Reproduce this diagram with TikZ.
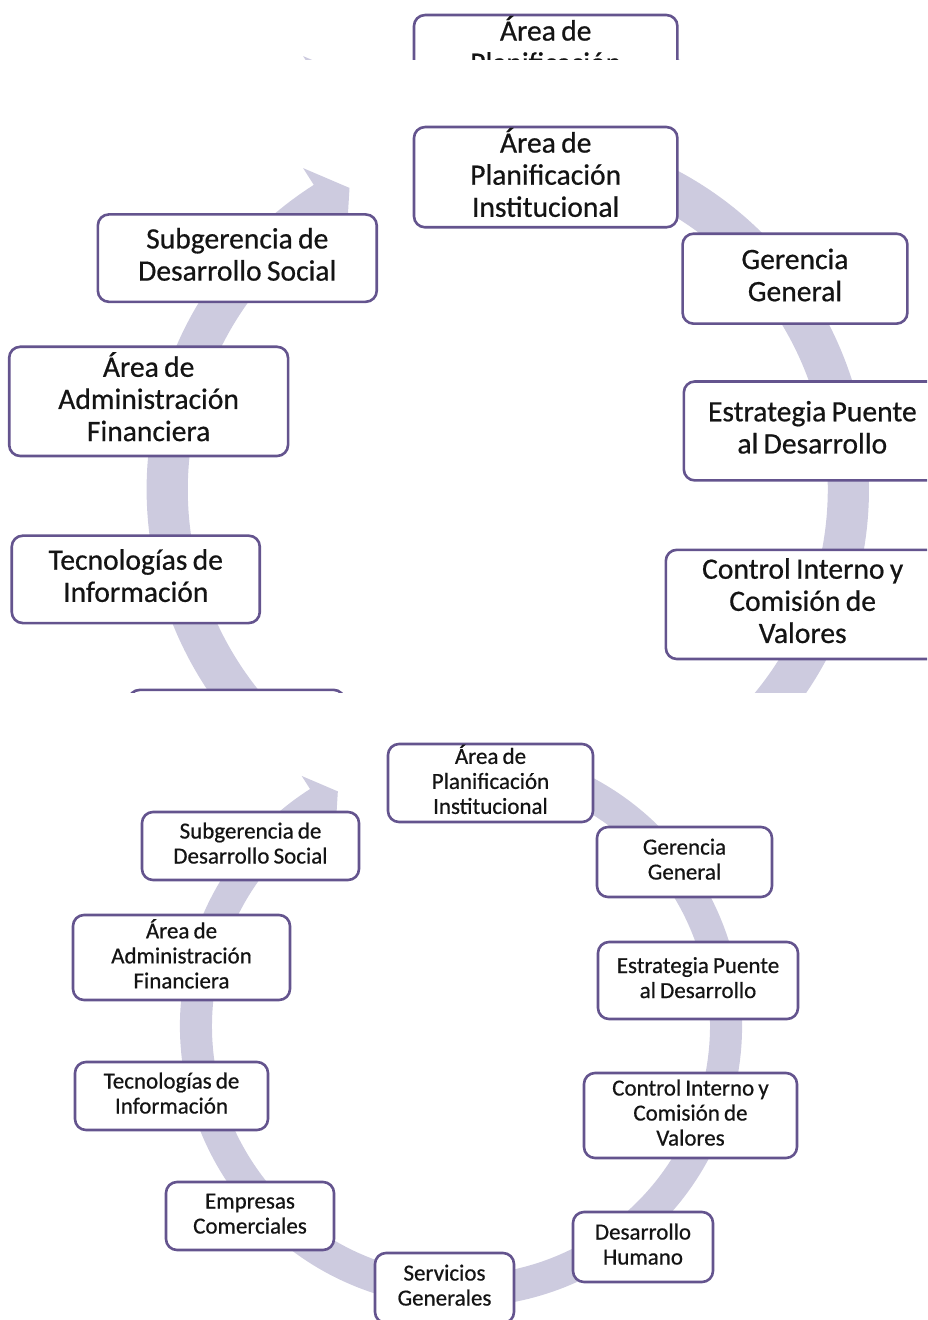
\documentclass[tikz,border=0pt]{standalone}
\usepackage{fontspec}
\setmainfont{Carlito}
\newfontfamily\boxfont{Carlito}[FakeBold=0.6, WordSpace=0.8]
\definecolor{bandc}{RGB}{205,203,223}
\definecolor{boxc}{RGB}{100,84,142}
\definecolor{txtc}{RGB}{20,20,20}
\newcommand\boxtext[1]{\begin{tabular}{@{}c@{}}#1\end{tabular}}
\tikzset{
  box/.style={draw=boxc, line width=2.6pt, rounded corners=11pt, fill=white,
    inner sep=0pt, text=txtc,
    font=\boxfont\fontsize{23}{25}\selectfont},
  band/.style={fill=bandc, draw=none}
}
\newcommand\cyclediagram{%
  \begin{scope}[shift={(461,1026)}]
    \fill[band] (-70:281) arc[start angle=-70, end angle=237.5, radius=281]
      -- (237.5:296.5) -- (242.3:265) -- (237.5:233.5) -- (237.5:249)
      arc[start angle=237.5, end angle=-70, radius=249] -- cycle;
  \end{scope}
  \node[box, minimum width=205, minimum height=78] (plan) at (490.5,783) {\boxtext{Área de\\Planificación\\Institucional}};
  \node[box, minimum width=175, minimum height=70] (gere) at (684.5,862) {\boxtext{Gerencia\\General}};
  \node[box, minimum width=200, minimum height=77] (estr) at (698,980.5) {\boxtext{Estrategia Puente\\al Desarrollo}};
  \node[box, minimum width=213, minimum height=85] (ctrl) at (690.5,1115.5) {\boxtext{Control Interno y\\Comisión de\\Valores}};
  \node[box, minimum width=140, minimum height=70] (dhum) at (643,1247) {\boxtext{Desarrollo\\Humano}};
  \node[box, minimum width=139, minimum height=70] (serv) at (444.5,1288) {\boxtext{Servicios\\Generales}};
  \node[box, minimum width=168, minimum height=68] (empr) at (250,1216) {\boxtext{Empresas\\Comerciales}};
  \node[box, minimum width=193, minimum height=68] (tecn) at (171.5,1096) {\boxtext{Tecnologías de\\Información}};
  \node[box, minimum width=217, minimum height=85] (admi) at (181.5,957.5) {\boxtext{Área de\\Administración\\Financiera}};
  \node[box, minimum width=217, minimum height=68] (subg) at (250.5,846) {\boxtext{Subgerencia de\\Desarrollo Social}};
}
\begin{document}
\begin{tikzpicture}[x=1pt,y=-1pt]
\useasboundingbox (0,0) rectangle (927,1320);
\begin{scope}
  \clip (0,0) rectangle (927,59.5);
  \begin{scope}[shift={(-84.6,-941)}, scale=1.285, transform shape, name prefix=top-]
    \cyclediagram
  \end{scope}
\end{scope}
\begin{scope}
  \clip (0,70) rectangle (927,692);
  \begin{scope}[shift={(-84.6,-829)}, scale=1.285, transform shape, name prefix=mid-]
    \cyclediagram
  \end{scope}
\end{scope}
\begin{scope}
  \clip (0,700) rectangle (927,1320);
  \begin{scope}[name prefix=bot-]
    \cyclediagram
  \end{scope}
\end{scope}
\end{tikzpicture}
\end{document}
